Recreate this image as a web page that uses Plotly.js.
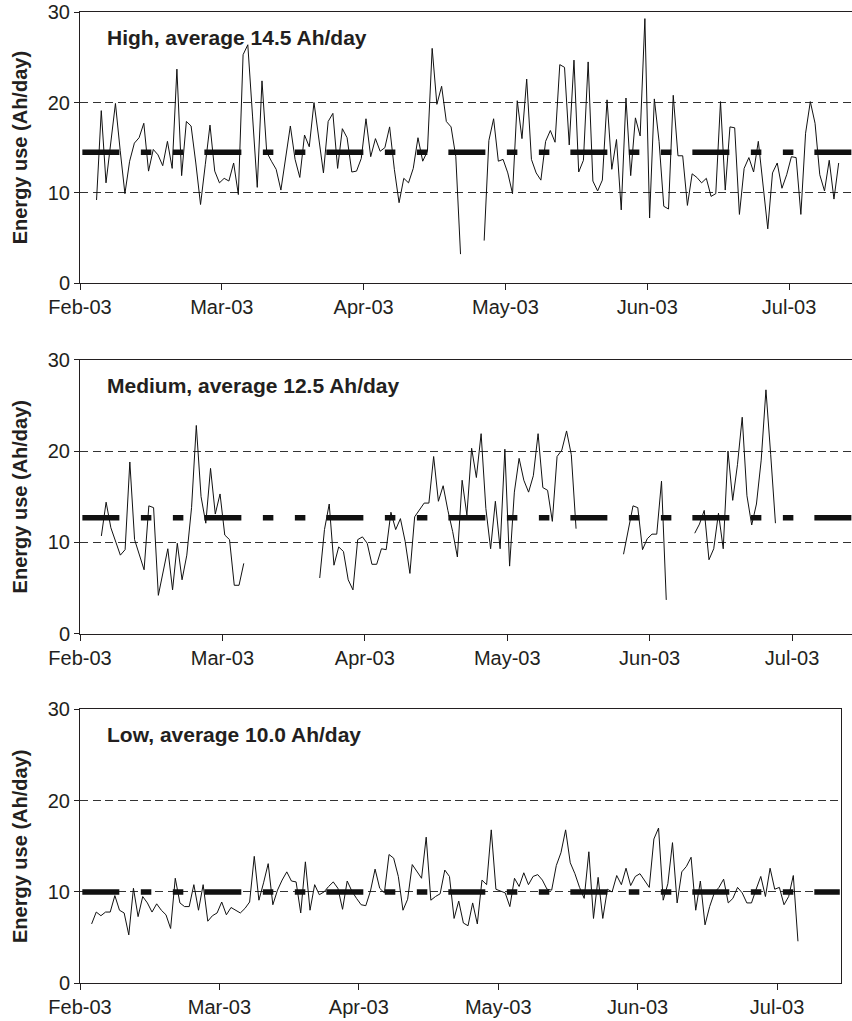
<!DOCTYPE html>
<html>
<head>
<meta charset="utf-8">
<script src="https://cdn.plot.ly/plotly-3.0.1.min.js"></script>
<style>
html,body{margin:0;padding:0;background:#ffffff;overflow:hidden}
#chart{width:852px;height:1021px}
</style>
</head>
<body>
<div id="chart"></div>
<script>
// ---------- data ----------
const startDate = '2003-02-01';
const panelTitles = ['High, average 14.5 Ah/day', 'Medium, average 12.5 Ah/day', 'Low, average 10.0 Ah/day'];
const averageLevels = [14.5, 12.7, 10.0];
const yTickValues = [0, 10, 20, 30];
const xTickDates = ['2003-02-01', '2003-03-03', '2003-04-02', '2003-05-02', '2003-06-01', '2003-07-01'];
const xTickLabels = ['Feb-03', 'Mar-03', 'Apr-03', 'May-03', 'Jun-03', 'Jul-03'];
const yAxisTitle = 'Energy use (Ah/day)';

const highUse = [
  null, null, null, 9.2, 19.1, 11.1, 15.5, 19.9, 14.7, 9.9,
  13.5, 15.5, 16.1, 17.7, 12.4, 14.8, 14.2, 13.0, 15.7, 12.7,
  23.7, 11.9, 17.9, 17.4, 13.3, 8.7, 13.1, 17.5, 12.4, 11.1,
  11.6, 11.3, 13.3, 9.8, 25.3, 26.4, 18.5, 10.6, 22.4, 14.5,
  13.5, 12.6, 10.3, 13.9, 17.4, 13.7, 11.7, 16.4, 15.1, 20.0,
  16.1, 12.2, 17.9, 18.8, 12.7, 17.1, 16.1, 12.3, 12.4, 13.8,
  18.2, 14.0, 16.0, 14.6, 15.0, 17.3, 12.6, 8.9, 11.6, 11.1,
  12.7, 16.1, 13.5, 14.6, 26.0, 19.8, 21.8, 17.9, 17.3, 14.0,
  3.2, null, null, null, null, 4.7, 15.8, 18.2, 13.5, 13.7,
  12.2, 9.9, 20.2, 16.0, 22.6, 13.7, 12.2, 11.4, 15.7, 16.9,
  15.6, 24.2, 23.9, 15.3, 24.7, 12.3, 13.6, 24.5, 11.3, 10.2,
  11.4, 20.3, 12.6, 15.9, 8.1, 20.5, 11.9, 18.3, 16.3, 29.3,
  7.2, 20.4, 15.7, 8.5, 8.2, 20.8, 14.1, 14.1, 8.6, 12.1,
  11.7, 11.1, 11.6, 9.6, 9.9, 20.1, 10.3, 17.3, 17.2, 7.6,
  12.7, 13.9, 12.3, 15.7, 10.7, 6.0, 12.2, 13.3, 10.5, 12.0,
  14.0, 13.9, 7.6, 16.6, 20.1, 17.7, 12.0, 10.2, 13.6, 9.3,
  13.3
];

const mediumUse = [
  null, null, null, null, 10.7, 14.4, 11.6, 10.0, 8.6, 9.2,
  18.8, 10.3, 8.7, 7.0, 14.0, 13.8, 4.2, 6.6, 9.3, 4.8,
  9.9, 5.9, 8.6, 13.8, 22.8, 15.0, 12.1, 18.1, 13.1, 15.3,
  10.8, 10.3, 5.3, 5.3, 7.7, null, null, null, null, null,
  null, null, null, null, null, null, null, null, null, null,
  6.1, 11.4, 14.2, 7.5, 9.5, 9.0, 5.9, 4.8, 10.3, 10.6,
  9.9, 7.6, 7.6, 9.3, 9.2, 13.3, 11.4, 12.6, 10.1, 6.6,
  12.8, 13.5, 14.3, 14.3, 19.4, 14.5, 16.2, 13.5, 11.2, 8.4,
  16.8, 13.0, 20.3, 17.1, 21.9, 13.7, 9.3, 14.5, 9.3, 20.2,
  7.4, 15.5, 19.2, 16.8, 15.5, 17.3, 21.9, 16.0, 15.7, 12.3,
  19.4, 20.1, 22.2, 19.6, 11.5, null, null, null, null, null,
  null, null, null, null, 8.7, 11.4, 14.0, 13.8, 9.2, 10.4,
  10.9, 10.9, 16.7, 3.7, null, null, null, null, null, 11.0,
  12.0, 13.5, 8.1, 9.3, 13.2, 9.3, 20.0, 14.6, 18.5, 23.7,
  15.1, 11.9, 14.2, 19.0, 26.7, 19.6, 12.1
];

const lowUse = [
  null, null, 6.5, 7.8, 7.4, 7.8, 7.8, 9.6, 8.0, 7.7,
  5.3, 10.4, 7.3, 9.5, 8.8, 7.8, 8.7, 8.0, 7.5, 6.0,
  11.5, 8.8, 8.4, 8.4, 10.8, 8.0, 10.8, 6.8, 7.4, 7.7,
  8.9, 7.5, 8.3, 8.0, 7.7, 8.2, 8.9, 13.9, 9.1, 11.0,
  13.1, 8.6, 10.2, 11.3, 12.2, 11.2, 11.1, 7.7, 13.3, 8.0,
  10.8, 9.7, 10.0, 10.6, 11.1, 10.4, 8.1, 11.2, 10.1, 9.3,
  8.6, 8.5, 10.1, 12.5, 10.4, 9.9, 14.1, 13.7, 11.7, 8.0,
  9.2, 13.0, 12.3, 11.5, 16.0, 9.1, 9.5, 9.8, 12.4, 11.7,
  7.1, 9.0, 6.6, 6.3, 8.8, 6.5, 11.3, 10.8, 16.8, 10.3,
  10.1, 9.9, 8.4, 11.5, 10.6, 12.1, 10.8, 11.7, 11.9, 11.3,
  10.3, 10.2, 12.9, 14.3, 16.8, 13.2, 12.0, 10.5, 9.3, 14.4,
  7.1, 11.6, 7.1, 10.3, 10.0, 11.8, 10.8, 12.6, 10.7, 11.7,
  12.0, 11.3, 10.5, 15.8, 17.0, 9.1, 10.9, 15.4, 8.8, 12.2,
  12.8, 13.8, 8.0, 11.2, 6.4, 8.4, 9.9, 10.5, 11.4, 8.8,
  9.3, 10.5, 9.9, 8.8, 8.8, 10.3, 11.7, 9.5, 12.6, 10.3,
  10.5, 8.6, 9.5, 11.8, 4.6
];

const seriesList = [highUse, mediumUse, lowUse];
const categoryCount = 164;

// ---------- helpers ----------
const DAY = 86400000;
const startMs = Date.parse(startDate + 'T00:00:00Z');
function dateAt(dayOffset) {
  return new Date(startMs + dayOffset * DAY).toISOString().replace('T', ' ').slice(0, 19);
}
// each daily category sits in the middle of its day slot
function categoryDate(i) { return dateAt(i + 0.5); }

// ---------- geometry (px) ----------
const W = 852, H = 1021;
const plotLeft = 80;
const panels = [
  { top: 12.3, bottom: 283.0, right: 852, pxPerDay: 4.727, box: false },
  { top: 359.7, bottom: 633.7, right: 852, pxPerDay: 4.747, box: false },
  { top: 709.3, bottom: 983.3, right: 841, pxPerDay: 4.647, box: true }
];

const ink = '#231f20';
const fontFamily = '"Liberation Sans", Arial, Helvetica, sans-serif';

const traces = [];
const layout = {
  width: W, height: H,
  margin: { l: 0, r: 0, t: 0, b: 0, pad: 0 },
  paper_bgcolor: '#ffffff', plot_bgcolor: '#ffffff',
  showlegend: false,
  font: { family: fontFamily, color: ink, size: 20 },
  annotations: []
};

panels.forEach((p, k) => {
  const sfx = k === 0 ? '' : String(k + 1);
  const values = seriesList[k];

  traces.push({
    type: 'scatter', mode: 'lines',
    x: [categoryDate(0), categoryDate(categoryCount - 1)],
    y: [averageLevels[k], averageLevels[k]],
    line: { color: '#111111', width: 5.5, dash: '37px,21.5px,10.5px,21.5px,10.5px,21px' },
    xaxis: 'x' + sfx, yaxis: 'y' + sfx, hoverinfo: 'skip'
  });
  traces.push({
    type: 'scatter', mode: 'lines',
    x: values.map((_, i) => categoryDate(i)),
    y: values,
    connectgaps: false,
    line: { color: '#111111', width: 1 },
    xaxis: 'x' + sfx, yaxis: 'y' + sfx, hoverinfo: 'skip'
  });

  const rangeDays = (p.right - plotLeft) / p.pxPerDay;
  layout['xaxis' + sfx] = {
    type: 'date',
    domain: [plotLeft / W, p.right / W],
    anchor: 'y' + sfx,
    range: [dateAt(0), dateAt(rangeDays)],
    tickmode: 'array', tickvals: xTickDates, ticktext: xTickLabels,
    ticks: 'outside', ticklen: 6, tickwidth: 1, tickcolor: ink,
    tickfont: { family: fontFamily, size: 20, color: ink },
    showline: true, linecolor: ink, linewidth: 1, mirror: true,
    showgrid: false, zeroline: false, fixedrange: true
  };
  layout['yaxis' + sfx] = {
    domain: [1 - p.bottom / H, 1 - p.top / H],
    anchor: 'x' + sfx,
    range: [0, 30],
    tickmode: 'array', tickvals: yTickValues,
    ticks: 'outside', ticklen: 5, tickwidth: 1, tickcolor: ink,
    tickfont: { family: fontFamily, size: 20, color: ink },
    showline: true, linecolor: ink, linewidth: 1, mirror: p.box,
    showgrid: true, gridcolor: '#333333', gridwidth: 1, griddash: '8px,4.5px',
    zeroline: false, fixedrange: true,
    title: { text: '<b>' + yAxisTitle + '</b>', font: { family: fontFamily, size: 20, color: ink }, standoff: 14 }
  };

  layout.annotations.push({
    xref: 'paper', yref: 'paper',
    x: 105 / W, y: 1 - (p.top + 25.5) / H,
    xanchor: 'left', yanchor: 'middle',
    text: '<b>' + panelTitles[k] + '</b>',
    showarrow: false,
    font: { family: fontFamily, size: 21, color: ink }
  });
});

Plotly.newPlot('chart', traces, layout, { staticPlot: true, displayModeBar: false });
</script>
</body>
</html>
